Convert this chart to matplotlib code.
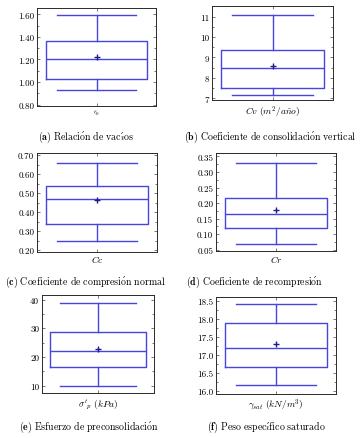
import matplotlib
matplotlib.use("Agg")
import matplotlib.pyplot as plt
from matplotlib.ticker import FixedLocator, AutoMinorLocator, FormatStrFormatter

plt.rcParams['font.family'] = ['cmr10', 'DejaVu Serif']
plt.rcParams['mathtext.fontset'] = 'cm'
plt.rcParams['axes.formatter.use_mathtext'] = True

# ---- data ----
var_labels = [r"$\epsilon_0$", r"$Cv\ (m^2/a\tilde{n}o)$", r"$Cc$", r"$Cr$",
              r"$\sigma'_p\ (kPa)$", r"$\gamma_{sat}\ (kN/m^3)$"]
captions = [r"$\mathbf{(a)}\ \mathrm{Relaci\acute{o}n\ de\ vac\acute{\imath}os}$",
            r"$\mathbf{(b)}\ \mathrm{Coeficiente\ de\ consolidaci\acute{o}n\ vertical}$",
            r"$\mathbf{(c)}\ \mathrm{Coeficiente\ de\ compresi\acute{o}n\ normal}$",
            r"$\mathbf{(d)}\ \mathrm{Coeficiente\ de\ recompresi\acute{o}n}$",
            r"$\mathbf{(e)}\ \mathrm{Esfuerzo\ de\ preconsolidaci\acute{o}n}$",
            r"$\mathbf{(f)}\ \mathrm{Peso\ espec\acute{\imath}fico\ saturado}$"]
whislo = [0.93, 7.15, 0.25, 0.07, 10.0, 16.18]
q1     = [1.03, 7.50, 0.34, 0.12, 16.5, 16.68]
med    = [1.20, 8.48, 0.47, 0.165, 22.0, 17.2]
mean   = [1.22, 8.60, 0.465, 0.177, 22.7, 17.3]
q3     = [1.36, 9.35, 0.54, 0.215, 28.8, 17.88]
whishi = [1.59, 11.1, 0.66, 0.33, 38.7, 18.42]
yticks = [[0.80, 1.00, 1.20, 1.40, 1.60],
          [7, 8, 9, 10, 11],
          [0.20, 0.30, 0.40, 0.50, 0.60, 0.70],
          [0.05, 0.10, 0.15, 0.20, 0.25, 0.30, 0.35],
          [10, 20, 30, 40],
          [16.0, 16.5, 17.0, 17.5, 18.0, 18.5]]
ytick_fmt = ['%.2f', '%d', '%.2f', '%.2f', '%d', '%.1f']

# ---- layout ----
W, H = 361, 439
ylims = [(0.788, 1.656), (6.92, 11.52), (0.191, 0.712), (0.046, 0.361), (7.4, 41.6), (15.92, 18.61)]
# axes boxes in pixels: x0, x1, ytop, ybottom
boxes = [(37, 156, 9, 107), (212, 333, 7, 101), (37, 157, 154, 253),
         (216, 336, 154, 252), (42, 154, 296, 394), (216, 336, 298, 395)]
label_y = [113, 112, 260, 260, 405, 405]
cap_pos = [(86, 137), (270, 137), (85, 282), (255, 282), (89, 427), (266, 427)]

blue = '#4646dc'
dark = '#1c1c8c'

fig = plt.figure(figsize=(W / 100, H / 100), dpi=100)

for i in range(6):
    x0, x1, yt, yb = boxes[i]
    ax = fig.add_axes([x0 / W, 1 - yb / H, (x1 - x0) / W, (yb - yt) / H])
    stats = [dict(whislo=whislo[i], q1=q1[i], med=med[i], mean=mean[i],
                  q3=q3[i], whishi=whishi[i], fliers=[])]
    lp = dict(color=blue, linewidth=1.0)
    ax.bxp(stats, positions=[1], widths=0.85, capwidths=0.67, showmeans=True,
           boxprops=lp, whiskerprops=lp, capprops=lp, medianprops=lp,
           meanprops=dict(marker='+', markeredgecolor=dark, markersize=4.5,
                          markeredgewidth=1.0))
    ax.set_xlim(0.5, 1.5)
    ax.set_ylim(*ylims[i])
    ax.set_xticks([1])
    ax.set_xticklabels([''])
    ax.yaxis.set_major_locator(FixedLocator(yticks[i]))
    ax.yaxis.set_major_formatter(FormatStrFormatter(ytick_fmt[i]))
    ax.yaxis.set_minor_locator(AutoMinorLocator(2))
    ax.tick_params(axis='both', which='both', direction='in', top=True, right=True,
                   labelsize=6.5, width=0.5, color='#444444', pad=2)
    ax.tick_params(which='major', length=2.5)
    ax.tick_params(which='minor', length=1.4)
    for s in ax.spines.values():
        s.set_linewidth(0.7)
        s.set_color('#2a2a2a')
    fig.text((x0 + x1) / 2 / W, 1 - label_y[i] / H, var_labels[i],
             ha='center', va='center', fontsize=5 if i == 0 else 6.8)
    cx, cy = cap_pos[i]
    fig.text(cx / W, 1 - cy / H, captions[i], ha='center', va='center', fontsize=7.1)

fig.savefig('out.png', dpi=100)
